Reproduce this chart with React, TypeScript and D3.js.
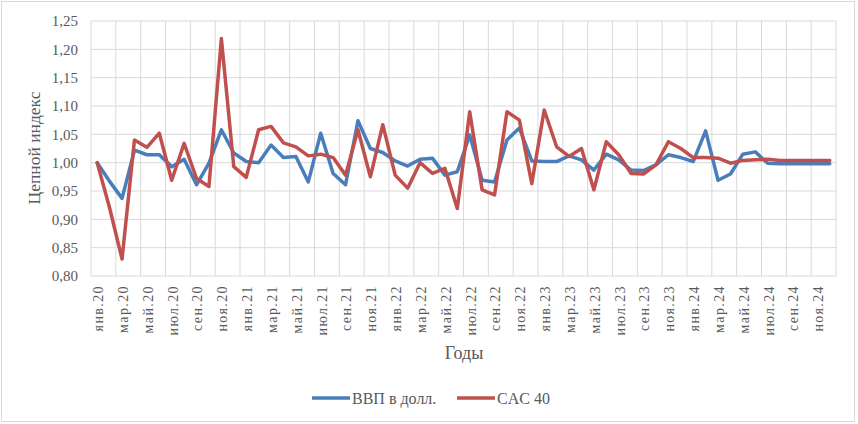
import * as d3 from "d3";

const months = ["янв", "фев", "мар", "апр", "май", "июн", "июл", "авг", "сен", "окт", "ноя", "дек"];
const years = ["20", "21", "22", "23", "24"];
const categories = years.flatMap((y) => months.map((m) => `${m}.${y}`));

const gdpUsd = [
  1.0, 0.967, 0.937, 1.022, 1.014, 1.014, 0.993, 1.006, 0.961, 0.999, 1.058, 1.017,
  1.002, 1.0, 1.031, 1.009, 1.011, 0.966, 1.052, 0.981, 0.961, 1.074, 1.025, 1.018,
  1.003, 0.994, 1.006, 1.008, 0.978, 0.984, 1.049, 0.969, 0.966, 1.04, 1.061, 1.003,
  1.002, 1.002, 1.012, 1.005, 0.987, 1.015, 1.005, 0.987, 0.986, 0.996, 1.014, 1.009,
  1.002, 1.056, 0.969, 0.98, 1.015, 1.019, 0.999, 0.998, 0.998, 0.998, 0.998, 0.998,
];

const cac40 = [
  1.0, 0.92, 0.83, 1.04, 1.027, 1.052, 0.969, 1.034, 0.972, 0.958, 1.219, 0.993,
  0.974, 1.058, 1.064, 1.035, 1.028, 1.012, 1.015, 1.009, 0.978, 1.058, 0.975, 1.067,
  0.978, 0.955, 1.0, 0.981, 0.99, 0.919, 1.09, 0.952, 0.943, 1.09, 1.075, 0.963,
  1.093, 1.028, 1.011, 1.025, 0.952, 1.037, 1.014, 0.981, 0.98, 0.996, 1.037, 1.025,
  1.009, 1.009, 1.008, 0.999, 1.004, 1.005, 1.006, 1.004, 1.004, 1.004, 1.004, 1.004,
];

const yTicks = [0.8, 0.85, 0.9, 0.95, 1.0, 1.05, 1.1, 1.15, 1.2, 1.25];

const series = [
  { name: "ВВП в долл.", values: gdpUsd, color: "#4a7ebb" },
  { name: "CAC 40", values: cac40, color: "#c0504d" },
];

const W = 858;
const H = 424;
const font = "'Liberation Serif', 'Times New Roman', serif";

export default function App() {
  const x = d3.scaleBand<string>().domain(categories).range([91, 836]).padding(0);
  const y = d3.scaleLinear().domain([0.8, 1.25]).range([276, 21]);
  const cx = (i: number) => (x(categories[i]) ?? 0) + x.bandwidth() / 2;

  const line = d3
    .line<number>()
    .x((_d, i) => cx(i))
    .y((d) => y(d));

  const gridX = categories.filter((_c, i) => i % 2 === 0).map((c) => x(c) ?? 0);
  gridX.push(836);

  const fmt = (v: number) => v.toFixed(2).replace(".", ",");

  return (
    <div style={{ position: "absolute", left: 0, top: 0 }}>
      <svg width={W} height={H} viewBox={`0 0 ${W} ${H}`} style={{ display: "block", fontFamily: font }}>
        <rect x={0} y={0} width={W} height={H} fill="#fff" />
        <rect x={1.5} y={1.5} width={853} height={420} fill="none" stroke="#d9d9d9" strokeWidth={1} />

        {/* grid */}
        {yTicks.map((t) => (
          <line key={`h${t}`} x1={91} x2={836} y1={y(t)} y2={y(t)} stroke="#d9d9d9" strokeWidth={1} />
        ))}
        {gridX.map((gx, i) => (
          <line key={`v${i}`} x1={gx} x2={gx} y1={21} y2={276} stroke="#d9d9d9" strokeWidth={1} />
        ))}

        {/* y ticks */}
        {yTicks.map((t) => (
          <text key={`yt${t}`} x={78} y={y(t)} dy="0.35em" textAnchor="end" fontSize={15} fill="#595959">
            {fmt(t)}
          </text>
        ))}

        {/* x ticks */}
        {categories.map((c, i) =>
          i % 2 === 0 ? (
            <text
              key={c}
              transform={`translate(${cx(i) + 1},285) rotate(-90)`}
              textAnchor="end"
              dy="0.35em"
              fontSize={14}
              letterSpacing={1.4}
              fill="#595959"
            >
              {c}
            </text>
          ) : null,
        )}

        {/* series */}
        {series.map((s) => (
          <path
            key={s.name}
            d={line(s.values) ?? ""}
            fill="none"
            stroke={s.color}
            strokeWidth={3.5}
            strokeLinejoin="round"
            strokeLinecap="round"
          />
        ))}

        {/* axis titles */}
        <text transform="translate(34,148) rotate(-90)" textAnchor="middle" dy="0.35em" fontSize={17.5} fill="#595959">
          Цепной индекс
        </text>
        <text x={464} y={353} textAnchor="middle" dy="0.35em" fontSize={18} fill="#595959">
          Годы
        </text>

        {/* legend */}
        {series.map((s, i) => {
          const lx = i === 0 ? 312 : 457;
          return (
            <g key={`lg${s.name}`}>
              <line x1={lx} x2={lx + 38} y1={398} y2={398} stroke={s.color} strokeWidth={3.5} />
              <text x={lx + 40} y={398} dy="0.35em" fontSize={16} fill="#595959">
                {s.name}
              </text>
            </g>
          );
        })}
      </svg>
    </div>
  );
}
